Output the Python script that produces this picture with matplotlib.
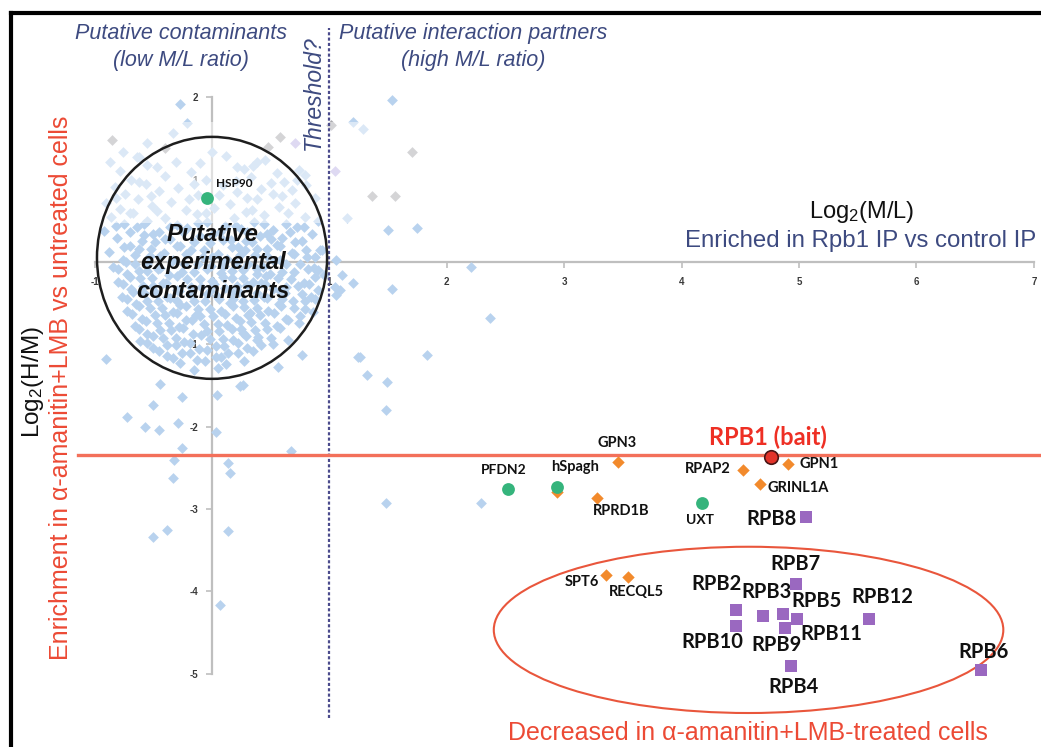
import matplotlib
matplotlib.use("Agg")
import matplotlib.pyplot as plt
from matplotlib.patches import Ellipse, Rectangle
from matplotlib.lines import Line2D

plt.rcParams["font.family"] = ["Liberation Sans", "DejaVu Sans"]
plt.rcParams["mathtext.fontset"] = "custom"
plt.rcParams["mathtext.rm"] = "Liberation Sans"
plt.rcParams["mathtext.it"] = "Liberation Sans:italic"

# ---------------- data ----------------
# bulk of quantified proteins: log2(M/L), log2(H/M)
bg_x = [
    -0.62, -0.31, 0.12, 0.45,
    -0.78, -0.47, -0.18, 0.27, 0.55, 0.74,
    -0.69, -0.40, -0.05, 0.33, 0.61,
    -0.83, -0.56, -0.29, 0.09, 0.42, 0.80,
    -0.74, -0.45, -0.12, 0.21, 0.52, 0.68,
    -0.90, -0.63, -0.35, 0.15, 0.38, 0.71, 0.88,
    -0.78, -0.51, -0.22, 0.02, 0.29, 0.57,
    -0.86, -0.67, -0.40, -0.13, 0.19, 0.44, 0.79,
    -0.75, -0.55, -0.30, -0.04, 0.11, 0.36, 0.63, 0.90,
    -0.92, -0.64, -0.45, -0.21, 0.07, 0.25, 0.52, 0.72,
    -0.81, -0.58, -0.36, -0.10, 0.16, 0.41, 0.60, 0.85,
    -0.70, -0.49, -0.27, -0.02, 0.22, 0.34, 0.55, 0.77,
    -0.88, -0.62, -0.41, -0.18, 0.05, 0.28, 0.47, 0.68, 0.92,
    -0.76, -0.53, -0.33, -0.08, 0.13, 0.37, 0.58, 0.81,
    -0.84, -0.66, -0.44, -0.24, -0.01, 0.20, 0.43, 0.63, 0.87,
    -0.72, -0.55, -0.37, -0.15, 0.08, 0.26, 0.49, 0.70, 0.95,
    -0.80, -0.61, -0.42, -0.21, 0.00, 0.17, 0.35, 0.56, 0.78,
    -0.69, -0.50, -0.30, -0.09, 0.11, 0.30, 0.52, 0.73, 0.90,
    -0.77, -0.58, -0.38, -0.19, 0.04, 0.23, 0.44, 0.62, 0.84,
    -0.65, -0.46, -0.27, -0.06, 0.15, 0.36, 0.57, 0.79,
    -0.72, -0.53, -0.33, -0.12, 0.08, 0.27, 0.48, 0.70, 0.86,
    -0.60, -0.40, -0.22, 0.01, 0.20, 0.41, 0.63,
    -0.66, -0.47, -0.28, -0.07, 0.13, 0.33, 0.55, 0.74,
    -0.55, -0.35, -0.16, 0.06, 0.26, 0.47,
    -0.61, -0.42, -0.24, -0.02, 0.18, 0.39,
    -0.50, -0.31, -0.11, 0.10, 0.30, 0.52,
    -0.38, -0.19, 0.03, 0.22,
    -0.27, -0.06, 0.12,
    -0.15, 0.05,
    0.18, 0.32, -0.02, 0.45, 0.25, -0.14, 0.60, 0.10, -0.30, 0.38,
]
bg_y = [
    1.27, 1.22, 1.29, 1.24,
    1.10, 1.15, 1.09, 1.13, 1.08, 1.12,
    1.00, 1.04, 0.99, 1.03, 0.97,
    0.91, 0.95, 0.90, 0.94, 0.89, 0.93,
    0.83, 0.86, 0.81, 0.85, 0.82, 0.87,
    0.72, 0.76, 0.73, 0.70, 0.76, 0.72, 0.78,
    0.64, 0.68, 0.63, 0.66, 0.61, 0.67,
    0.55, 0.59, 0.54, 0.58, 0.53, 0.57, 0.55,
    0.46, 0.50, 0.45, 0.49, 0.44, 0.48, 0.46, 0.50,
    0.38, 0.42, 0.37, 0.41, 0.36, 0.40, 0.39, 0.43,
    0.29, 0.33, 0.28, 0.32, 0.27, 0.31, 0.29, 0.34,
    0.20, 0.24, 0.19, 0.23, 0.18, 0.24, 0.21, 0.25,
    0.12, 0.16, 0.11, 0.15, 0.10, 0.14, 0.16, 0.11, 0.15,
    0.03, 0.07, 0.02, 0.06, 0.04, 0.08, 0.02, 0.06,
    -0.06, -0.02, -0.07, -0.03, -0.05, -0.01, -0.06, -0.03, -0.07,
    -0.15, -0.11, -0.16, -0.12, -0.14, -0.10, -0.15, -0.12, -0.16,
    -0.24, -0.20, -0.25, -0.21, -0.23, -0.19, -0.24, -0.20, -0.25,
    -0.33, -0.29, -0.34, -0.30, -0.32, -0.28, -0.33, -0.29, -0.34,
    -0.42, -0.38, -0.43, -0.39, -0.41, -0.37, -0.42, -0.38, -0.43,
    -0.51, -0.47, -0.52, -0.48, -0.50, -0.46, -0.51, -0.47,
    -0.60, -0.56, -0.61, -0.57, -0.59, -0.55, -0.60, -0.56, -0.61,
    -0.69, -0.65, -0.70, -0.66, -0.68, -0.64, -0.69,
    -0.78, -0.74, -0.79, -0.75, -0.77, -0.73, -0.78, -0.74,
    -0.87, -0.83, -0.88, -0.84, -0.86, -0.82,
    -0.96, -0.92, -0.97, -0.93, -0.95, -0.91,
    -1.05, -1.01, -1.06, -1.02, -1.04, -1.00,
    -1.14, -1.10, -1.15, -1.11,
    -1.23, -1.20, -1.24,
    -1.31, -1.29,
    -0.45, -0.62, -0.35, -0.27, -0.82, -0.65, -0.45, -0.05, -0.48, -0.15,
]

# second layer of the dense cluster around the origin
core_pairs = [
    (-0.70, 0.36), (-0.50, 0.34), (-0.25, 0.37), (0.00, 0.33), (0.30, 0.36), (0.47, 0.34), (0.66, 0.37),
    (-0.60, 0.25), (-0.40, 0.28), (-0.15, 0.24), (0.09, 0.27), (0.29, 0.25), (0.50, 0.28), (0.71, 0.24),
    (-0.75, 0.18), (-0.52, 0.16), (-0.30, 0.19), (-0.07, 0.15), (0.17, 0.18), (0.38, 0.16), (0.58, 0.19), (0.80, 0.15),
    (-0.66, 0.09), (-0.44, 0.07), (-0.22, 0.10), (0.00, 0.06), (0.24, 0.09), (0.47, 0.07), (0.70, 0.10), (0.88, 0.06),
    (-0.73, 0.00), (-0.55, -0.02), (-0.34, 0.01), (-0.12, -0.03), (0.10, 0.00), (0.31, -0.02), (0.53, 0.01), (0.75, -0.03),
    (-0.80, -0.09), (-0.62, -0.11), (-0.46, -0.08), (-0.26, -0.12), (-0.04, -0.09), (0.17, -0.11), (0.38, -0.08), (0.60, -0.12), (0.82, -0.09),
    (-0.70, -0.18), (-0.51, -0.20), (-0.30, -0.17), (-0.10, -0.21), (0.09, -0.18), (0.26, -0.20), (0.46, -0.17), (0.67, -0.21), (0.88, -0.18),
    (-0.76, -0.27), (-0.59, -0.29), (-0.39, -0.26), (-0.18, -0.30), (0.02, -0.27), (0.21, -0.29), (0.42, -0.26), (0.63, -0.30), (0.83, -0.27),
    (-0.67, -0.36), (-0.48, -0.38), (-0.28, -0.35), (-0.04, -0.39), (0.17, -0.36), (0.38, -0.38), (0.58, -0.35), (0.77, -0.39),
    (-0.72, -0.45), (-0.55, -0.47), (-0.36, -0.44), (-0.15, -0.48), (0.06, -0.45), (0.26, -0.47), (0.47, -0.44), (0.69, -0.48), (0.88, -0.45),
    (-0.62, -0.54), (-0.43, -0.56), (-0.22, -0.53), (-0.02, -0.57), (0.18, -0.54), (0.38, -0.56), (0.59, -0.53), (0.79, -0.57),
    (-0.68, -0.63), (-0.49, -0.65), (-0.30, -0.62), (-0.10, -0.66), (0.11, -0.63), (0.31, -0.65), (0.53, -0.62), (0.75, -0.66),
    (-0.56, -0.72), (-0.37, -0.74), (-0.17, -0.71), (0.05, -0.75), (0.24, -0.72), (0.45, -0.74), (0.65, -0.71),
    (-0.62, -0.81), (-0.44, -0.83), (-0.25, -0.80), (-0.04, -0.84), (0.17, -0.81), (0.37, -0.83), (0.58, -0.80),
    (-0.50, -0.90), (-0.31, -0.92), (-0.09, -0.89), (0.09, -0.93), (0.29, -0.90), (0.50, -0.92),
    (-0.55, -0.99), (-0.38, -1.01), (-0.19, -0.98), (0.03, -1.02), (0.22, -0.99), (0.42, -1.01),
    (-0.45, -1.08), (-0.26, -1.10), (-0.04, -1.07), (0.14, -1.11), (0.35, -1.08),
    (-0.33, -1.17), (-0.13, -1.19), (0.08, -1.16), (0.27, -1.20),
    (-0.82, 0.44), (-0.58, 0.46), (-0.36, 0.43), (-0.12, 0.47), (0.20, 0.44), (0.44, 0.46), (0.78, 0.43),
    (-0.70, 0.60), (-0.47, 0.62), (-0.05, 0.59), (0.34, 0.63), (0.65, 0.60),
    (-0.82, 0.78), (-0.52, 0.80), (-0.20, 0.77), (0.06, 0.81), (0.30, 0.78), (0.60, 0.80),
    (-0.62, 0.97), (-0.15, 0.95), (0.20, 0.98), (0.50, 0.96), (0.72, 0.99),
    (-0.55, 1.18), (-0.10, 1.20), (0.35, 1.17),
]
core_x = [p[0] for p in core_pairs]
core_y = [p[1] for p in core_pairs]

# scattered proteins outside the main cluster
out_x = [-0.27, -0.55, -0.33, -0.87, -0.76, -0.64, -0.21, 0.00, 0.21, 0.38,
         1.53, 1.20, 1.29, 0.79, 1.15, 1.50, 1.75, 1.06, 2.21, 1.11, 1.20,
         1.53, 1.05, 1.06, 0.94, 0.90, 1.09, 2.37, 1.83, 1.26, 1.32, 1.49,
         1.48, 0.67, 1.48, 2.29, 0.77, 0.65, 0.56, 0.26, -0.90, -0.44,
         -0.26, -0.50, -0.72, -0.57, -0.45, -0.29, 0.03, -0.26, -0.32, -0.33,
         0.14, 0.15, -0.38, -0.50, 0.14, 0.07, 0.24, 0.04, 0.38, 1.24]
out_y = [1.92, 1.45, 1.57, 1.22, 1.34, 1.28, 1.69, 1.34, 1.15, 1.22,
         1.97, 1.70, 1.62, 1.06, 0.53, 0.39, 0.41, 0.02, -0.06, -0.16, -0.26,
         -0.33, -0.30, -0.40, 0.15, -0.10, -0.34, -0.68, -1.13, -1.15, -1.37, -1.46,
         -1.80, -2.30, -2.93, -2.93, -1.13, -0.95, -1.28, -1.49, -1.18, -1.48,
         -1.64, -1.74, -1.88, -2.00, -2.04, -1.96, -2.07, -2.26, -2.41, -2.62,
         -2.44, -2.56, -3.26, -3.34, -3.27, -4.17, -1.51, -1.62, -0.95, -1.15]

# proteins drawn in grey / lilac in the upper band
grey_x = [-0.85, 0.58, 1.01, 1.70, 1.36, 1.56, -0.40, 0.48]
grey_y = [1.48, 1.52, 1.66, 1.34, 0.80, 0.80, 1.38, 1.40]
lilac_x = [0.71, 1.05]
lilac_y = [1.45, 1.11]

# named interactors
green_names = ["HSP90", "PFDN2", "hSpagh", "UXT"]
green_x = [-0.04, 2.52, 2.94, 4.17]
green_y = [0.78, -2.76, -2.73, -2.93]

orange_names = ["GPN3", "RPAP2", "GPN1", "GRINL1A", "RPRD1B", "SPT6", "RECQL5", ""]
orange_x = [3.46, 4.52, 4.91, 4.67, 3.28, 3.36, 3.54, 2.94]
orange_y = [-2.43, -2.53, -2.45, -2.70, -2.87, -3.80, -3.83, -2.79]

bait_name = "RPB1 (bait)"
bait_x = [4.76]
bait_y = [-2.37]

pol2_names = ["RPB8", "RPB7", "RPB2", "RPB10", "RPB3", "RPB11", "RPB9",
              "RPB5", "RPB12", "RPB4", "RPB6"]
pol2_x = [5.06, 4.97, 4.46, 4.46, 4.69, 4.86, 4.88, 4.98, 5.60, 4.93, 6.55]
pol2_y = [-3.10, -3.91, -4.23, -4.42, -4.30, -4.28, -4.45, -4.34, -4.34, -4.91, -4.96]

x_ticks = [-1, 0, 1, 2, 3, 4, 5, 6, 7]
y_ticks = [-5, -4, -3, -2, -1, 1, 2]
threshold_ml = 1.0
baseline_hm = -2.35

# label offsets (points) relative to each marker
green_off = [(6, 10, "left", 8.5), (-3, 14, "center", 10), (13, 14, "center", 10.5),
             (-1, -12, "center", 10)]
orange_off = [(-1, 14, "center"), (-25, 1, "center"), (8, 0, "left"), (5, -3, "left"),
              (17, -9, "center"), (-18, -5, "center"), (6, -11, "center"), (0, 0, "center")]
pol2_off = [(-25, -1), (0, 14), (-14, 19), (-17, -12), (3, 17), (35, -14), (-6, -12),
            (14, 13), (9, 16), (2, -15), (2, 13)]

# ---------------- colours ----------------
C_BLUE = "#b8d2ee"
C_GREY = "#a9a9ad"
C_LILAC = "#bdb3e6"
C_GREEN = "#35b47c"
C_ORANGE = "#f28a2c"
C_PURPLE = "#9a68c0"
C_RED = "#ec4a35"
C_NAVY = "#3d4a80"
C_AXIS = "#bfbfbf"

W, H = 1041, 747
fig = plt.figure(figsize=(W / 100, H / 100), dpi=100)
ax = fig.add_axes([0, 0, 1, 1])
ax.set_xlim(-1.806, 7.061)
ax.set_ylim(-5.893, 3.183)
ax.patch.set_visible(False)

# crossing axes through the origin
for s in ("top", "right"):
    ax.spines[s].set_visible(False)
ax.spines["left"].set_position(("data", 0))
ax.spines["bottom"].set_position(("data", 0))
ax.spines["left"].set_bounds(-5, 2)
ax.spines["bottom"].set_bounds(-1, 7)
for s in ("left", "bottom"):
    ax.spines[s].set_color(C_AXIS)
    ax.spines[s].set_linewidth(1.6)
    ax.spines[s].set_zorder(1)
ax.set_axisbelow(True)
ax.set_xticks(x_ticks)
ax.set_xticklabels([str(v) for v in x_ticks])
ax.set_yticks(y_ticks)
ax.set_yticklabels([str(v) for v in y_ticks])
ax.tick_params(direction="out", length=4, width=1.2, color=C_AXIS,
               labelsize=7, labelcolor="#3a3a3a")
ax.tick_params(axis="x", pad=7)
ax.tick_params(axis="y", pad=6)
for lab in ax.get_xticklabels() + ax.get_yticklabels():
    lab.set_fontweight("bold")

# background proteins
for xs, ys, c in ((bg_x, bg_y, C_BLUE), (core_x, core_y, C_BLUE), (out_x, out_y, C_BLUE),
                  (grey_x, grey_y, C_GREY), (lilac_x, lilac_y, C_LILAC)):
    ax.scatter(xs, ys, marker="D", s=30, color=c, linewidths=0, zorder=2)

# translucent band behind the x-axis title
ax.add_patch(Rectangle((-1.0, 0.47), 8.2, 1.23, facecolor="white", alpha=0.5,
                       edgecolor="none", zorder=2.5))

# reference lines
ax.plot([threshold_ml, threshold_ml], [-5.54, 2.84], color="#4b4b8c", lw=1.6,
        linestyle=(0, (1.4, 1.0)), zorder=3)
ax.plot([-1.14, 7.061], [baseline_hm, baseline_hm], color="#f3705a", lw=2.4, zorder=3)

# highlighted regions
ax.add_patch(Ellipse((0.0, 0.05), 1.96, 2.94, facecolor="none", edgecolor="#1e1e1e",
                     lw=1.8, zorder=3))
ax.add_patch(Ellipse((4.57, -4.47), 4.34, 2.02, facecolor="none", edgecolor="#e9563c",
                     lw=1.5, zorder=3))

# named proteins
ax.scatter(orange_x, orange_y, marker="D", s=40, color=C_ORANGE, linewidths=0, zorder=4)
ax.scatter(green_x, green_y, marker="o", s=85, color=C_GREEN, linewidths=0, zorder=4.5)
ax.scatter(pol2_x, pol2_y, marker="s", s=72, color=C_PURPLE, linewidths=0, zorder=4)
ax.scatter(bait_x, bait_y, marker="o", s=95, color="#e2332a", edgecolors="#4a1515",
           linewidths=1.2, zorder=5)

lab_font = ["Lato", "DejaVu Sans"]
for n, x, y, (dx, dy, ha, fs) in zip(green_names, green_x, green_y, green_off):
    ax.annotate(n, (x, y), xytext=(dx, dy), textcoords="offset points", ha=ha,
                va="center", fontsize=fs, fontweight="bold", family=lab_font,
                color="#111111", zorder=6)
for n, x, y, (dx, dy, ha) in zip(orange_names, orange_x, orange_y, orange_off):
    if n:
        ax.annotate(n, (x, y), xytext=(dx, dy), textcoords="offset points", ha=ha,
                    va="center", fontsize=10.5, fontweight="bold", family=lab_font,
                    color="#111111", zorder=6)
for n, x, y, (dx, dy) in zip(pol2_names, pol2_x, pol2_y, pol2_off):
    ax.annotate(n, (x, y), xytext=(dx, dy), textcoords="offset points", ha="center",
                va="center", fontsize=14.5, fontweight="bold", family=lab_font,
                color="#111111", zorder=6)
ax.annotate(bait_name, (bait_x[0], bait_y[0]), xytext=(-2, 14), textcoords="offset points",
            ha="center", va="center", fontsize=17, fontweight="bold", family=lab_font,
            color="#ee2f24", zorder=6)

# annotations and axis titles (pixel-based placement)
def px(x, y):
    return x / W, 1 - y / H

fig.text(*px(181, 47), "Putative contaminants\n(low M/L ratio)", ha="center", va="center",
         fontsize=15.5, style="italic", color=C_NAVY, linespacing=1.4)
fig.text(*px(473, 47), "Putative interaction partners\n(high M/L ratio)", ha="center",
         va="center", fontsize=15.5, style="italic", color=C_NAVY, linespacing=1.4)
fig.text(*px(313, 93), "Threshold?", rotation=90, ha="center", va="center",
         fontsize=16.5, style="italic", color=C_NAVY)
fig.text(*px(213, 263), "Putative\nexperimental\ncontaminants", ha="center", va="center",
         fontsize=17, style="italic", fontweight="bold", color="#111111",
         linespacing=1.33, zorder=6)
fig.text(*px(862, 212), r"Log$_\mathrm{2}$(M/L)", ha="center", va="center",
         fontsize=17, color="#111111", zorder=6)
fig.text(*px(861, 241), "Enriched in Rpb1 IP vs control IP", ha="center", va="center",
         fontsize=17.3, color=C_NAVY, zorder=6)
fig.text(*px(33, 382), r"Log$_\mathrm{2}$(H/M)", rotation=90, ha="center", va="center",
         fontsize=17.5, color="#111111")
fig.text(*px(61, 388), "Enrichment in α-amanitin+LMB vs untreated cells", rotation=90,
         ha="center", va="center", fontsize=18, color=C_RED)
fig.text(*px(748, 733), "Decreased in α-amanitin+LMB-treated cells", ha="center",
         va="center", fontsize=18, color=C_RED)

# frame along the top and left edges
fig.add_artist(Line2D([11 / W, 1], [1 - 13 / H, 1 - 13 / H], color="black", lw=3,
                      solid_capstyle="projecting"))
fig.add_artist(Line2D([11 / W, 11 / W], [0, 1 - 13 / H], color="black", lw=3,
                      solid_capstyle="projecting"))

fig.savefig("out.png", dpi=100)
